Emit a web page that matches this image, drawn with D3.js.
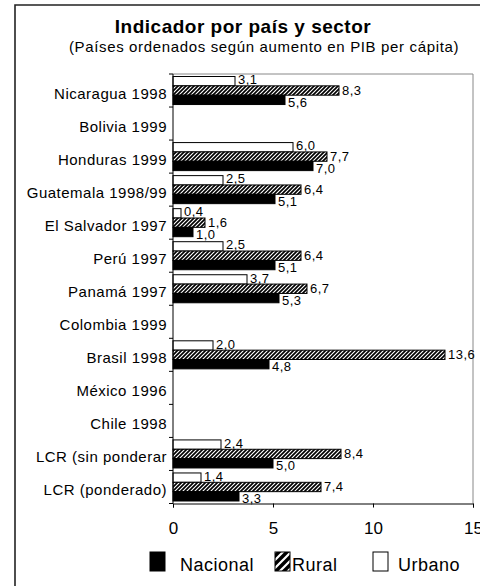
<!DOCTYPE html>
<meta charset="utf-8">
<style>
body {
  margin: 0;
  background: #fff;
}
svg {
  display: block;
  font-family: "Liberation Sans", Arial, sans-serif;
}
.cat-label {
  font-size: 15px;
  letter-spacing: 0.5px;
}
.val-label {
  font-size: 13px;
  letter-spacing: 0.5px;
}
.axis--x text {
  font-size: 17px;
}
</style>
<body>
<svg width="480" height="586"></svg>
<script src="https://cdnjs.cloudflare.com/ajax/libs/d3/7.8.5/d3.min.js"></script>
<script>
// data (comma decimals in labels)
var categories = ["Nicaragua 1998", "Bolivia 1999", "Honduras 1999", "Guatemala 1998/99",
  "El Salvador 1997", "Perú 1997", "Panamá 1997", "Colombia 1999", "Brasil 1998",
  "México 1996", "Chile 1998", "LCR (sin ponderar", "LCR (ponderado)"];
var urbano   = [3.1, null, 6.0, 2.5, 0.4, 2.5, 3.7, null, 2.0, null, null, 2.4, 1.4];
var rural    = [8.3, null, 7.7, 6.4, 1.6, 6.4, 6.7, null, 13.6, null, null, 8.4, 7.4];
var nacional = [5.6, null, 7.0, 5.1, 1.0, 5.1, 5.3, null, 4.8, null, null, 5.0, 3.3];
var seriesNames = ["Urbano", "Rural", "Nacional"];   // top to bottom inside a group
var legendNames = ["Nacional", "Rural", "Urbano"];
var xTicks = [0, 5, 10, 15];

var svg = d3.select("svg");

// hatch for the rural bars
var defs = svg.append("defs");
var hatch = defs.append("pattern")
    .attr("id", "hatch")
    .attr("patternUnits", "userSpaceOnUse")
    .attr("width", 4).attr("height", 4);
hatch.append("rect").attr("width", 4).attr("height", 4).attr("fill", "#fff");
hatch.append("path")
    .attr("d", "M-1,1 L1,-1 M0,4 L4,0 M3,5 L5,3")
    .attr("stroke", "#000").attr("stroke-width", 1.7);

var hatchBig = defs.append("pattern")
    .attr("id", "hatchBig")
    .attr("patternUnits", "userSpaceOnUse")
    .attr("width", 8).attr("height", 8);
hatchBig.append("rect").attr("width", 8).attr("height", 8).attr("fill", "#000");
hatchBig.append("path")
    .attr("d", "M-2,2 L2,-2 M0,8 L8,0 M6,10 L10,6")
    .attr("stroke", "#fff").attr("stroke-width", 2.2);

// outer frame
svg.append("path")
    .attr("d", "M15,590 L15,5 L485,5")
    .attr("fill", "none")
    .attr("stroke", "#222")
    .attr("stroke-width", 1.6);

// title
svg.append("text")
    .attr("x", 243).attr("y", 33)
    .attr("text-anchor", "middle")
    .style("font-size", "19px")
    .style("font-weight", "bold")
    .style("letter-spacing", "0.5px")
    .text("Indicador por país y sector");

svg.append("text")
    .attr("x", 264).attr("y", 52)
    .attr("text-anchor", "middle")
    .style("font-size", "15px")
    .style("letter-spacing", "0.65px")
    .text("(Países ordenados según aumento en PIB per cápita)");

var plotL = 173, plotR = 473, plotT = 74, plotB = 503.5;

var x = d3.scaleLinear().domain([0, 15]).range([plotL, plotR]);
var y = d3.scaleBand().domain(categories).range([plotT, plotB]);
var ySub = d3.scaleBand().domain(seriesNames).range([2.5, y.bandwidth() - 2.5]);

var values = { Urbano: urbano, Rural: rural, Nacional: nacional };
var fills = { Urbano: "#fff", Rural: "url(#hatch)", Nacional: "#000" };
var labelShift = { Urbano: -1.5, Rural: -0.5, Nacional: 2.5 };

var rows = [];
seriesNames.forEach(function(s) {
  categories.forEach(function(c, i) {
    if (values[s][i] != null) rows.push({ cat: c, series: s, value: values[s][i] });
  });
});

// plot area border (top, right)
svg.append("path")
    .attr("d", "M" + plotL + "," + plotT + " L" + plotR + "," + plotT + " L" + plotR + "," + plotB)
    .attr("fill", "none")
    .attr("stroke", "#888")
    .attr("stroke-width", 1);

// bars
svg.selectAll(".bar")
  .data(rows)
  .enter().append("rect")
    .attr("class", "bar")
    .attr("x", x(0))
    .attr("y", function(d) { return y(d.cat) + ySub(d.series); })
    .attr("width", function(d) { return x(d.value) - x(0); })
    .attr("height", ySub.bandwidth())
    .attr("fill", function(d) { return fills[d.series]; })
    .attr("stroke", "#000")
    .attr("stroke-width", 1);

// value labels
var fmt = d3.format(".1f");
svg.selectAll(".val-label")
  .data(rows)
  .enter().append("text")
    .attr("class", "val-label")
    .attr("x", function(d) { return x(d.value) + 3; })
    .attr("y", function(d) { return y(d.cat) + ySub(d.series) + ySub.bandwidth() / 2 + labelShift[d.series] + 4.6; })
    .text(function(d) { return fmt(d.value).replace(".", ","); });

// category axis: line, ticks on band edges, labels
svg.append("line")
    .attr("x1", plotL).attr("x2", plotL)
    .attr("y1", plotT).attr("y2", plotB)
    .attr("stroke", "#000");

var edges = categories.map(function(c) { return y(c); }).concat([plotB]);
svg.selectAll(".ytick")
  .data(edges)
  .enter().append("line")
    .attr("class", "ytick")
    .attr("x1", plotL - 4).attr("x2", plotL)
    .attr("y1", function(d) { return d; })
    .attr("y2", function(d) { return d; })
    .attr("stroke", "#000");

svg.selectAll(".cat-label")
  .data(categories)
  .enter().append("text")
    .attr("class", "cat-label")
    .attr("x", 167)
    .attr("y", function(d) { return y(d) + y.bandwidth() / 2 + 8; })
    .attr("text-anchor", "end")
    .text(function(d) { return d; });

// value axis
var gx = svg.append("g")
    .attr("class", "axis axis--x")
    .attr("transform", "translate(0," + plotB + ")")
    .call(d3.axisBottom(x).tickValues(xTicks).tickSize(4).tickPadding(14));
gx.select(".domain").attr("stroke", "#000");
gx.selectAll("text").attr("fill", "#000").attr("font-family", null);

// legend
var legendX = { Nacional: 150, Rural: 275, Urbano: 373 };
var legendTextX = { Nacional: 30, Rural: 17, Urbano: 25 };
var legendFill = { Nacional: "#000", Rural: "url(#hatchBig)", Urbano: "#fff" };
var lg = svg.selectAll(".legend")
  .data(legendNames)
  .enter().append("g")
    .attr("class", "legend")
    .attr("transform", function(d) { return "translate(" + legendX[d] + ",552)"; });
lg.append("rect")
    .attr("width", 15).attr("height", 19)
    .attr("fill", function(d) { return legendFill[d]; })
    .attr("stroke", "#000");
lg.append("text")
    .attr("x", function(d) { return legendTextX[d]; })
    .attr("y", 19)
    .style("font-size", "18px")
    .style("letter-spacing", "0.5px")
    .text(function(d) { return d; });
</script>
</body>
